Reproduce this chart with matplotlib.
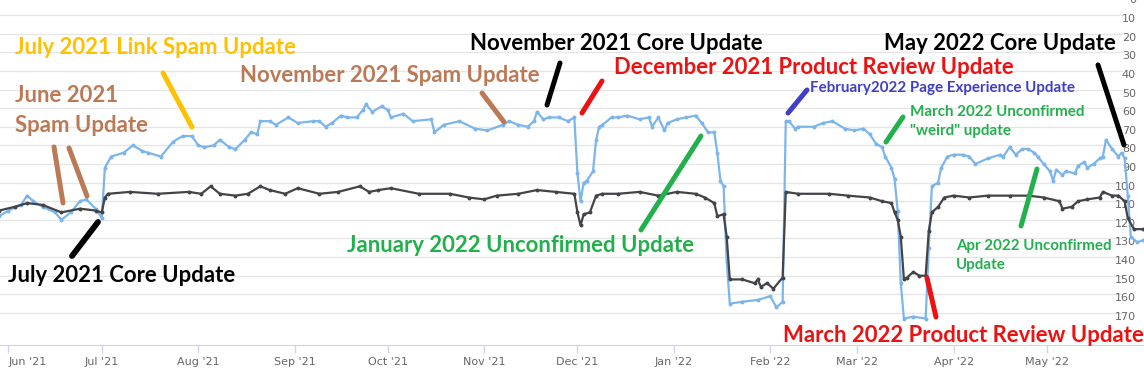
import datetime
import matplotlib
matplotlib.use('Agg')
import matplotlib.pyplot as plt
import matplotlib.dates as mdates
import matplotlib.transforms as mtrans
import pandas as pd

W, H = 1144, 377

# light blue series (position by day)
blue_dates = ['2021-05-29', '2021-06-01', '2021-06-05', '2021-06-07', '2021-06-09', '2021-06-12', '2021-06-16',
              '2021-06-18', '2021-06-21', '2021-06-24', '2021-06-26', '2021-06-29', '2021-07-01', '2021-07-02',
              '2021-07-04', '2021-07-08', '2021-07-11', '2021-07-14', '2021-07-16', '2021-07-20', '2021-07-24',
              '2021-07-27', '2021-07-30', '2021-08-01', '2021-08-03', '2021-08-06', '2021-08-08', '2021-08-11',
              '2021-08-13', '2021-08-16', '2021-08-18', '2021-08-20', '2021-08-21', '2021-08-24', '2021-08-26',
              '2021-08-30', '2021-09-02', '2021-09-07', '2021-09-09', '2021-09-11', '2021-09-13', '2021-09-16',
              '2021-09-18', '2021-09-21', '2021-09-23', '2021-09-24', '2021-09-26', '2021-09-29', '2021-10-01',
              '2021-10-02', '2021-10-06', '2021-10-09', '2021-10-15', '2021-10-16', '2021-10-19', '2021-10-24',
              '2021-10-29', '2021-11-02', '2021-11-07', '2021-11-09', '2021-11-12', '2021-11-15', '2021-11-17',
              '2021-11-18', '2021-11-20', '2021-11-22', '2021-11-25', '2021-11-28', '2021-11-30', '2021-12-01',
              '2021-12-02', '2021-12-03', '2021-12-04', '2021-12-06', '2021-12-07', '2021-12-08', '2021-12-09',
              '2021-12-12', '2021-12-14', '2021-12-17', '2021-12-21', '2021-12-24', '2021-12-25', '2021-12-27',
              '2021-12-29', '2021-12-30', '2022-01-02', '2022-01-05', '2022-01-08', '2022-01-10', '2022-01-12',
              '2022-01-14', '2022-01-15', '2022-01-16', '2022-01-17', '2022-01-18', '2022-01-19', '2022-01-23',
              '2022-01-28', '2022-02-01', '2022-02-03', '2022-02-05', '2022-02-06', '2022-02-07', '2022-02-09',
              '2022-02-10', '2022-02-15', '2022-02-18', '2022-02-21', '2022-02-25', '2022-02-28', '2022-03-03',
              '2022-03-05', '2022-03-07', '2022-03-09', '2022-03-10', '2022-03-12', '2022-03-13', '2022-03-14',
              '2022-03-15', '2022-03-16', '2022-03-19', '2022-03-23', '2022-03-24', '2022-03-25', '2022-03-27',
              '2022-03-28', '2022-03-30', '2022-04-01', '2022-04-04', '2022-04-06', '2022-04-08', '2022-04-12',
              '2022-04-16', '2022-04-17', '2022-04-19', '2022-04-21', '2022-04-23', '2022-04-25', '2022-04-27',
              '2022-04-28', '2022-04-30', '2022-05-02', '2022-05-03', '2022-05-04', '2022-05-06', '2022-05-07',
              '2022-05-10', '2022-05-11', '2022-05-13', '2022-05-14', '2022-05-16', '2022-05-18', '2022-05-19',
              '2022-05-20', '2022-05-22', '2022-05-24', '2022-05-25', '2022-05-26', '2022-05-27', '2022-05-28',
              '2022-05-30', '2022-06-01']
blue_rank = [118, 115, 112, 107, 110, 113, 116,
             120, 116, 110, 109, 114, 119, 92,
             86, 84, 80, 83, 84, 86, 78,
             75, 75, 80, 81, 80, 77, 81,
             82, 77, 73, 74, 67, 67, 69,
             65, 68, 67, 67, 70, 68, 64,
             65, 65, 61, 58, 62, 59, 61,
             65, 63, 67, 66, 73, 69, 67,
             71, 72, 69, 67, 69, 70, 67,
             62, 66, 65, 65, 67, 65, 95,
             110, 100, 99, 94, 77, 70, 69,
             65, 65, 64, 66, 65, 70, 65,
             72, 68, 66, 65, 64, 68, 73,
             73, 84, 99, 102, 142, 165, 164,
             163, 161, 167, 164, 67, 67, 71,
             70, 70, 68, 67, 71, 72, 71,
             74, 79, 81, 86, 92, 98, 115,
             154, 173, 172, 173, 135, 102, 100,
             92, 86, 85, 85, 86, 90, 87,
             85, 86, 81, 85, 82, 82, 84,
             86, 90, 94, 99, 93, 96, 94,
             95, 91, 89, 92, 90, 87, 86,
             77, 82, 86, 84, 87, 107, 129,
             132, 131]

# dark series
black_dates = ['2021-05-29', '2021-06-03', '2021-06-07', '2021-06-12', '2021-06-18', '2021-06-24', '2021-06-29',
               '2021-07-01', '2021-07-02', '2021-07-03', '2021-07-10', '2021-07-19', '2021-07-29', '2021-08-02',
               '2021-08-05', '2021-08-08', '2021-08-13', '2021-08-17', '2021-08-21', '2021-08-24', '2021-08-29',
               '2021-09-02', '2021-09-09', '2021-09-15', '2021-09-22', '2021-09-25', '2021-09-28', '2021-10-02',
               '2021-10-11', '2021-10-21', '2021-10-27', '2021-11-01', '2021-11-05', '2021-11-12', '2021-11-18',
               '2021-11-24', '2021-11-30', '2021-12-01', '2021-12-02', '2021-12-03', '2021-12-05', '2021-12-07',
               '2021-12-09', '2021-12-14', '2021-12-21', '2021-12-27', '2022-01-02', '2022-01-08', '2022-01-11',
               '2022-01-14', '2022-01-15', '2022-01-17', '2022-01-18', '2022-01-19', '2022-01-23', '2022-01-27',
               '2022-01-28', '2022-01-29', '2022-01-31', '2022-02-02', '2022-02-05', '2022-02-06', '2022-02-10',
               '2022-02-20', '2022-02-26', '2022-03-05', '2022-03-09', '2022-03-12', '2022-03-13', '2022-03-14',
               '2022-03-15', '2022-03-16', '2022-03-17', '2022-03-19', '2022-03-21', '2022-03-23', '2022-03-24',
               '2022-03-25', '2022-03-27', '2022-03-29', '2022-04-01', '2022-04-06', '2022-04-12', '2022-04-19',
               '2022-04-25', '2022-04-30', '2022-05-05', '2022-05-06', '2022-05-09', '2022-05-11', '2022-05-14',
               '2022-05-18', '2022-05-19', '2022-05-22', '2022-05-24', '2022-05-26', '2022-05-27', '2022-05-29',
               '2022-06-01']
black_rank = [115, 113, 111, 112, 116, 114, 115,
              116, 108, 106, 105, 106, 105, 106,
              102, 106, 107, 106, 102, 104, 106,
              103, 106, 105, 102, 105, 104, 103,
              106, 106, 108, 109, 107, 106, 104,
              105, 106, 116, 123, 117, 116, 107,
              106, 106, 105, 107, 105, 106, 108,
              111, 118, 117, 129, 152, 152, 154,
              152, 156, 154, 157, 151, 105, 106,
              106, 107, 108, 110, 111, 116, 120,
              129, 152, 151, 148, 150, 150, 126,
              116, 113, 108, 107, 108, 107, 107,
              107, 108, 110, 114, 113, 110, 109,
              108, 105, 107, 107, 110, 119, 125,
              125]

y_ticks = list(range(0, 180, 10))
month_ticks = pd.date_range('2021-06-01', '2022-05-01', freq='MS')

fig = plt.figure(figsize=(W / 100, H / 100), dpi=100)
ax = fig.add_axes([0, 1 - 344.6 / H, 1, 344.6 / H])

# x range: Jun 1 sits at 8.5 px, 3.109 px per day
jun1 = mdates.date2num(datetime.datetime(2021, 6, 1))
x_lo, x_hi = jun1 - 8.5 / 3.109, jun1 + (W - 8.5) / 3.109
ax.set_ylim(187.0, 1.93)

for v in y_ticks:
    ax.axhline(v, xmin=0, xmax=1122 / W, color='#e6e6e6', lw=1, zorder=0)
lab_tr = mtrans.blended_transform_factory(ax.transAxes, ax.transData) + \
    mtrans.ScaledTranslation(0, -4 / 100, fig.dpi_scale_trans)
for v in y_ticks:
    ax.text(1136 / W, v, str(v), transform=lab_tr, ha='right', va='center',
            fontsize=8, color='#666666', family='DejaVu Sans', clip_on=False)

bd = pd.to_datetime(blue_dates)
kd = pd.to_datetime(black_dates)
ax.plot(bd, blue_rank, color='#7cb5ec', lw=1.6, marker='o', ms=1.8, zorder=3)
ax.plot(kd, black_rank, color='#434348', lw=1.6, marker='o', ms=1.8, zorder=3)

ax.set_xticks(month_ticks)
ax.set_xticklabels([d.strftime("%b '%y") for d in month_ticks])
ax.tick_params(axis='x', direction='out', length=6, color='#ccd6eb', width=1,
               labelsize=8, labelcolor='#666666', pad=3)
ax.tick_params(axis='y', left=False, labelleft=False)
for s in ['top', 'left', 'right']:
    ax.spines[s].set_visible(False)
ax.spines['bottom'].set_color('#ccd6eb')
ax.set_xlim(x_lo, x_hi)
ax.get_xticklabels()[0].set_ha('left')

BIG = 15.9
SMALL = 10.9
FAM = ['Lato', 'DejaVu Sans']


def label(x, y, s, c, size=BIG):
    fig.text(x / W, 1 - y / H, s, color=c, fontsize=size, fontweight='bold',
             family=FAM, ha='left', va='center', zorder=6)


def stroke(x0, y0, x1, y1, c, lw=3.6):
    ax.plot([x0 / W, x1 / W], [1 - y0 / H, 1 - y1 / H], transform=fig.transFigure,
            color=c, lw=lw, solid_capstyle='round', clip_on=False, zorder=5)


gold = '#ffc000'
brown = '#bb7a55'
red = '#ee1111'
green = '#22b04c'
blue = '#3f3fc8'

label(15, 48, 'July 2021 Link Spam Update', gold)
label(15, 96, 'June 2021', brown)
label(15, 125, 'Spam Update', brown)
label(470, 43, 'November 2021 Core Update', 'black')
label(240, 75, 'November 2021 Spam Update', brown)
label(614, 67, 'December 2021 Product Review Update', red)
label(810, 88, 'February2022 Page Experience Update', blue, SMALL)
label(910, 112, 'March 2022 Unconfirmed', green, SMALL)
label(910, 131, '"weird" update', green, SMALL)
label(884, 44, 'May 2022 Core Update', 'black')
label(347, 245, 'January 2022 Unconfirmed Update', green)
label(8, 276, 'July 2021 Core Update', 'black')
label(956, 246, 'Apr 2022 Unconfirmed', green, SMALL)
label(956, 265, 'Update', green, SMALL)
label(783, 335, 'March 2022 Product Review Update', red)

stroke(163, 73, 192, 127, gold)
stroke(54, 147, 63, 203, brown)
stroke(69, 148, 87, 196, brown)
stroke(98, 222, 72, 256, 'black', 4.2)
stroke(482, 93, 504, 122, brown)
stroke(560, 63, 547, 105, 'black')
stroke(602, 81, 582, 113, red)
stroke(701, 136, 641, 230, green)
stroke(807, 90, 788, 113, blue)
stroke(903, 117, 886, 142, green)
stroke(927, 278, 936, 317, red)
stroke(1037, 169, 1021, 226, green)
stroke(1098, 65, 1124, 145, 'black')

fig.savefig('out.png', dpi=100)
